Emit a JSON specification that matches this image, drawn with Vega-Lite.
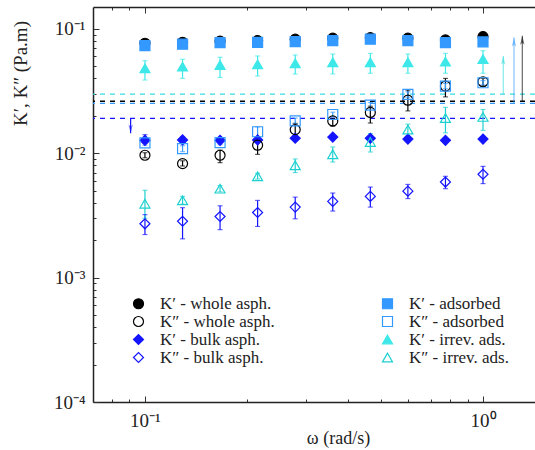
{
  "$schema": "https://vega.github.io/schema/vega-lite/v6.json",
  "width": 442,
  "height": 395,
  "autosize": "none",
  "padding": {"left": 93, "top": 7, "right": 0, "bottom": 48},
  "background": "white",
  "config": {
    "view": {"stroke": null},
    "axis": {
      "grid": false,
      "domainColor": "#222222",
      "domainWidth": 1.5,
      "tickColor": "#333333",
      "tickWidth": 1,
      "labelFont": "Liberation Serif",
      "labelFontSize": 19,
      "labelColor": "#222222",
      "titleFont": "Liberation Serif",
      "titleFontSize": 19,
      "titleFontWeight": "normal",
      "titleColor": "#222222",
      "labelOverlap": false,
      "labelFlush": false
    }
  },
  "datasets": {
    "pts": [
      {"series": "K′ - whole asph.", "x": 0.1, "y": 0.0767, "lo": 0.0745, "hi": 0.079},
      {"series": "K′ - whole asph.", "x": 0.1292, "y": 0.078, "lo": 0.076, "hi": 0.08},
      {"series": "K′ - whole asph.", "x": 0.1668, "y": 0.0796, "lo": 0.0775, "hi": 0.0817},
      {"series": "K′ - whole asph.", "x": 0.2154, "y": 0.0805, "lo": 0.0785, "hi": 0.0826},
      {"series": "K′ - whole asph.", "x": 0.2783, "y": 0.0826, "lo": 0.0805, "hi": 0.0848},
      {"series": "K′ - whole asph.", "x": 0.3594, "y": 0.0842, "lo": 0.082, "hi": 0.0865},
      {"series": "K′ - whole asph.", "x": 0.4642, "y": 0.085, "lo": 0.0828, "hi": 0.0873},
      {"series": "K′ - whole asph.", "x": 0.5995, "y": 0.0842, "lo": 0.082, "hi": 0.0865},
      {"series": "K′ - whole asph.", "x": 0.7743, "y": 0.0815, "lo": 0.079, "hi": 0.084},
      {"series": "K′ - whole asph.", "x": 1.0, "y": 0.0867, "lo": 0.08, "hi": 0.094},
      {"series": "K′ - adsorbed", "x": 0.1, "y": 0.0733, "lo": 0.0715, "hi": 0.0751},
      {"series": "K′ - adsorbed", "x": 0.1292, "y": 0.0753, "lo": 0.0735, "hi": 0.0771},
      {"series": "K′ - adsorbed", "x": 0.1668, "y": 0.0776, "lo": 0.0757, "hi": 0.0795},
      {"series": "K′ - adsorbed", "x": 0.2154, "y": 0.078, "lo": 0.0761, "hi": 0.0799},
      {"series": "K′ - adsorbed", "x": 0.2783, "y": 0.079, "lo": 0.0771, "hi": 0.0809},
      {"series": "K′ - adsorbed", "x": 0.3594, "y": 0.0805, "lo": 0.0786, "hi": 0.0824},
      {"series": "K′ - adsorbed", "x": 0.4642, "y": 0.0826, "lo": 0.0806, "hi": 0.0846},
      {"series": "K′ - adsorbed", "x": 0.5995, "y": 0.0805, "lo": 0.0786, "hi": 0.0824},
      {"series": "K′ - adsorbed", "x": 0.7743, "y": 0.0776, "lo": 0.0757, "hi": 0.0795},
      {"series": "K′ - adsorbed", "x": 1.0, "y": 0.0786, "lo": 0.0767, "hi": 0.0805},
      {"series": "K′ - bulk asph.", "x": 0.1, "y": 0.0127, "lo": 0.0121, "hi": 0.0141},
      {"series": "K′ - bulk asph.", "x": 0.1292, "y": 0.0128, "lo": 0.0123, "hi": 0.0136},
      {"series": "K′ - bulk asph.", "x": 0.1668, "y": 0.0127, "lo": 0.0122, "hi": 0.0134},
      {"series": "K′ - bulk asph.", "x": 0.2154, "y": 0.0128, "lo": 0.0124, "hi": 0.0133},
      {"series": "K′ - bulk asph.", "x": 0.2783, "y": 0.0132, "lo": 0.0129, "hi": 0.0135},
      {"series": "K′ - bulk asph.", "x": 0.3594, "y": 0.0135, "lo": 0.0132, "hi": 0.0138},
      {"series": "K′ - bulk asph.", "x": 0.4642, "y": 0.0132, "lo": 0.0129, "hi": 0.0135},
      {"series": "K′ - bulk asph.", "x": 0.5995, "y": 0.013, "lo": 0.0127, "hi": 0.0133},
      {"series": "K′ - bulk asph.", "x": 0.7743, "y": 0.0127, "lo": 0.0124, "hi": 0.013},
      {"series": "K′ - bulk asph.", "x": 1.0, "y": 0.013, "lo": 0.0127, "hi": 0.0133},
      {"series": "K′ - irrev. ads.", "x": 0.1, "y": 0.0482, "lo": 0.0388, "hi": 0.0555},
      {"series": "K′ - irrev. ads.", "x": 0.1292, "y": 0.0497, "lo": 0.04, "hi": 0.057},
      {"series": "K′ - irrev. ads.", "x": 0.1668, "y": 0.0513, "lo": 0.0407, "hi": 0.0592},
      {"series": "K′ - irrev. ads.", "x": 0.2154, "y": 0.0519, "lo": 0.0418, "hi": 0.0606},
      {"series": "K′ - irrev. ads.", "x": 0.2783, "y": 0.0529, "lo": 0.0434, "hi": 0.0617},
      {"series": "K′ - irrev. ads.", "x": 0.3594, "y": 0.0539, "lo": 0.0434, "hi": 0.0628},
      {"series": "K′ - irrev. ads.", "x": 0.4642, "y": 0.0539, "lo": 0.044, "hi": 0.0636},
      {"series": "K′ - irrev. ads.", "x": 0.5995, "y": 0.0539, "lo": 0.044, "hi": 0.0628},
      {"series": "K′ - irrev. ads.", "x": 0.7743, "y": 0.0545, "lo": 0.044, "hi": 0.0636},
      {"series": "K′ - irrev. ads.", "x": 1.0, "y": 0.0571, "lo": 0.044, "hi": 0.0668},
      {"series": "K″ - whole asph.", "x": 0.1, "y": 0.00964, "lo": 0.0092, "hi": 0.0101},
      {"series": "K″ - whole asph.", "x": 0.1292, "y": 0.00826, "lo": 0.0079, "hi": 0.0087},
      {"series": "K″ - whole asph.", "x": 0.1668, "y": 0.00964, "lo": 0.0084, "hi": 0.0106},
      {"series": "K″ - whole asph.", "x": 0.2154, "y": 0.01161, "lo": 0.0098, "hi": 0.0127},
      {"series": "K″ - whole asph.", "x": 0.2783, "y": 0.0155, "lo": 0.0137, "hi": 0.0174},
      {"series": "K″ - whole asph.", "x": 0.3594, "y": 0.0182, "lo": 0.0165, "hi": 0.0191},
      {"series": "K″ - whole asph.", "x": 0.4642, "y": 0.0213, "lo": 0.0175, "hi": 0.0239},
      {"series": "K″ - whole asph.", "x": 0.5995, "y": 0.0267, "lo": 0.0219, "hi": 0.0322},
      {"series": "K″ - whole asph.", "x": 0.7743, "y": 0.0347, "lo": 0.0284, "hi": 0.04},
      {"series": "K″ - whole asph.", "x": 1.0, "y": 0.0376, "lo": 0.0347, "hi": 0.04},
      {"series": "K″ - adsorbed", "x": 0.1, "y": 0.0121, "lo": 0.0116, "hi": 0.0127},
      {"series": "K″ - adsorbed", "x": 0.1292, "y": 0.0109, "lo": 0.0103, "hi": 0.0115},
      {"series": "K″ - adsorbed", "x": 0.1668, "y": 0.0122, "lo": 0.0117, "hi": 0.0128},
      {"series": "K″ - adsorbed", "x": 0.2154, "y": 0.0149, "lo": 0.0134, "hi": 0.0163},
      {"series": "K″ - adsorbed", "x": 0.2783, "y": 0.0182, "lo": 0.0172, "hi": 0.0192},
      {"series": "K″ - adsorbed", "x": 0.3594, "y": 0.0205, "lo": 0.0196, "hi": 0.0214},
      {"series": "K″ - adsorbed", "x": 0.4642, "y": 0.0244, "lo": 0.0232, "hi": 0.0256},
      {"series": "K″ - adsorbed", "x": 0.5995, "y": 0.0297, "lo": 0.0282, "hi": 0.0312},
      {"series": "K″ - adsorbed", "x": 0.7743, "y": 0.0347, "lo": 0.033, "hi": 0.0365},
      {"series": "K″ - adsorbed", "x": 1.0, "y": 0.0369, "lo": 0.0355, "hi": 0.0384},
      {"series": "K″ - bulk asph.", "x": 0.1, "y": 0.00271, "lo": 0.00222, "hi": 0.00321},
      {"series": "K″ - bulk asph.", "x": 0.1292, "y": 0.00284, "lo": 0.00205, "hi": 0.00365},
      {"series": "K″ - bulk asph.", "x": 0.1668, "y": 0.0031, "lo": 0.00243, "hi": 0.00378},
      {"series": "K″ - bulk asph.", "x": 0.2154, "y": 0.00334, "lo": 0.00258, "hi": 0.00418},
      {"series": "K″ - bulk asph.", "x": 0.2783, "y": 0.00369, "lo": 0.00297, "hi": 0.00444},
      {"series": "K″ - bulk asph.", "x": 0.3594, "y": 0.0041, "lo": 0.00343, "hi": 0.00479},
      {"series": "K″ - bulk asph.", "x": 0.4642, "y": 0.0045, "lo": 0.00369, "hi": 0.00535},
      {"series": "K″ - bulk asph.", "x": 0.5995, "y": 0.00496, "lo": 0.00432, "hi": 0.00562},
      {"series": "K″ - bulk asph.", "x": 0.7743, "y": 0.00587, "lo": 0.00519, "hi": 0.00653},
      {"series": "K″ - bulk asph.", "x": 1.0, "y": 0.00678, "lo": 0.0057, "hi": 0.00785},
      {"series": "K″ - irrev. ads.", "x": 0.1, "y": 0.00393, "lo": 0.003, "hi": 0.00504},
      {"series": "K″ - irrev. ads.", "x": 0.1292, "y": 0.00418, "lo": 0.0039, "hi": 0.0045},
      {"series": "K″ - irrev. ads.", "x": 0.1668, "y": 0.00519, "lo": 0.0049, "hi": 0.0055},
      {"series": "K″ - irrev. ads.", "x": 0.2154, "y": 0.00653, "lo": 0.0062, "hi": 0.0069},
      {"series": "K″ - irrev. ads.", "x": 0.2783, "y": 0.008, "lo": 0.007, "hi": 0.009},
      {"series": "K″ - irrev. ads.", "x": 0.3594, "y": 0.00982, "lo": 0.0085, "hi": 0.01125},
      {"series": "K″ - irrev. ads.", "x": 0.4642, "y": 0.01233, "lo": 0.01023, "hi": 0.01442},
      {"series": "K″ - irrev. ads.", "x": 0.5995, "y": 0.0155, "lo": 0.0134, "hi": 0.01714},
      {"series": "K″ - irrev. ads.", "x": 0.7743, "y": 0.0192, "lo": 0.0146, "hi": 0.0234},
      {"series": "K″ - irrev. ads.", "x": 1.0, "y": 0.0196, "lo": 0.0153, "hi": 0.0225}
    ],
    "lines": [
      {"sample": "irrev", "val": 0.0299},
      {"sample": "whole", "val": 0.0262},
      {"sample": "adsorbed", "val": 0.0252},
      {"sample": "bulk", "val": 0.0191}
    ],
    "arrows": [
      {"sample": "irrev", "x": 1.148, "from": 0.0299, "to": 0.0605, "dir": "up"},
      {"sample": "adsorbed", "x": 1.235, "from": 0.0252, "to": 0.0851, "dir": "up"},
      {"sample": "whole", "x": 1.307, "from": 0.0262, "to": 0.0879, "dir": "up"},
      {"sample": "bulk", "x": 0.0907, "from": 0.0191, "to": 0.0145, "dir": "down"}
    ]
  },
  "resolve": {"axis": {"x": "independent"}},
  "layer": [
    {
      "data": {"name": "lines"},
      "mark": {"type": "rule", "strokeDash": [5, 5], "strokeWidth": 1.3},
      "encoding": {
        "y": {"field": "val", "type": "quantitative", "scale": {"type": "log"}},
        "color": {"field": "sample", "type": "nominal", "legend": null,
          "scale": {"domain": ["K′ - whole asph.", "K′ - adsorbed", "K″ - whole asph.", "K″ - adsorbed", "K′ - bulk asph.", "K′ - irrev. ads.", "K″ - bulk asph.", "K″ - irrev. ads.", "whole", "adsorbed", "irrev", "bulk"],
            "range": ["#000000", "#3399ff", "#000000", "#3399ff", "#1414ff", "#3ee8e8", "#1414ff", "#1fd0d0", "#000000", "#3399ff", "#33dddd", "#1414ff"]}}
      }
    },
    {
      "data": {"name": "arrows"},
      "mark": {"type": "rule", "strokeWidth": 1.2},
      "encoding": {
        "x": {"field": "x", "type": "quantitative", "scale": {"type": "log"}, "axis": null},
        "y": {"field": "from", "type": "quantitative", "scale": {"type": "log"}},
        "y2": {"field": "to"},
        "color": {"field": "sample", "type": "nominal", "legend": null},
        "opacity": {"field": "dir", "type": "nominal", "legend": null, "scale": {"type": "ordinal", "domain": ["up", "down"], "range": [0.6, 1]}}
      }
    },
    {
      "data": {"name": "arrows"},
      "transform": [{"filter": "datum.dir == 'up'"}],
      "mark": {"type": "point", "filled": true, "shape": "M0,0L-0.55,2.2L0,1.7L0.55,2.2Z", "size": 64, "strokeWidth": 0},
      "encoding": {
        "x": {"field": "x", "type": "quantitative", "scale": {"type": "log"}, "axis": null},
        "y": {"field": "to", "type": "quantitative", "scale": {"type": "log"}},
        "color": {"field": "sample", "type": "nominal", "legend": null},
        "opacity": {"field": "dir", "type": "nominal", "legend": null}
      }
    },
    {
      "data": {"name": "arrows"},
      "transform": [{"filter": "datum.dir == 'down'"}],
      "mark": {"type": "point", "filled": true, "shape": "M0,0L-0.55,-2.2L0,-1.7L0.55,-2.2Z", "size": 64, "strokeWidth": 0},
      "encoding": {
        "x": {"field": "x", "type": "quantitative", "scale": {"type": "log"}, "axis": null},
        "y": {"field": "to", "type": "quantitative", "scale": {"type": "log"}},
        "color": {"field": "sample", "type": "nominal", "legend": null},
        "opacity": {"field": "dir", "type": "nominal", "legend": null}
      }
    },
    {
      "data": {"name": "pts"},
      "mark": {"type": "rule", "strokeWidth": 1.2},
      "encoding": {
        "x": {"field": "x", "type": "quantitative", "scale": {"type": "log"},
          "axis": {"orient": "top", "labels": false, "title": null,
            "values": [0.08, 0.09, 0.1, 0.2, 0.3, 0.4, 0.5, 0.6, 0.7, 0.8, 0.9, 1],
            "tickSize": {"condition": {"test": "datum.value == 0.1 || datum.value == 1", "value": -6}, "value": -3}}},
        "y": {"field": "lo", "type": "quantitative", "scale": {"type": "log"}},
        "y2": {"field": "hi"},
        "color": {"field": "series", "type": "nominal", "legend": null}
      }
    },
    {
      "data": {"name": "pts"},
      "transform": [{"fold": ["lo", "hi"], "as": ["end", "yv"]}],
      "mark": {"type": "tick", "orient": "horizontal", "size": 5, "thickness": 1.1},
      "encoding": {
        "x": {"field": "x", "type": "quantitative", "scale": {"type": "log"}, "axis": null},
        "y": {"field": "yv", "type": "quantitative", "scale": {"type": "log"}},
        "color": {"field": "series", "type": "nominal", "legend": null}
      }
    },
    {
      "data": {"name": "pts"},
      "mark": {"type": "point", "filled": true, "strokeWidth": 1.2, "opacity": 1, "size": 100},
      "encoding": {
        "x": {"field": "x", "type": "quantitative",
          "scale": {"type": "log", "domain": [0.0702, 1.425], "nice": false},
          "axis": {"orient": "bottom", "title": "ω (rad/s)", "titleFontSize": 18,
            "values": [0.08, 0.09, 0.1, 0.2, 0.3, 0.4, 0.5, 0.6, 0.7, 0.8, 0.9, 1],
            "labelExpr": "datum.value == 0.1 ? '10⁻¹' : datum.value == 1 ? '10⁰' : ''",
            "tickSize": {"condition": {"test": "datum.value == 0.1 || datum.value == 1", "value": -6}, "value": -3},
            "labelPadding": 15,
            "titleX": 245, "titleY": 36, "titleAlign": "center", "titleBaseline": "middle"}},
        "y": {"field": "y", "type": "quantitative",
          "scale": {"type": "log", "domain": [0.0001, 0.15], "nice": false},
          "axis": {"orient": "left", "title": "K′, K″ (Pa.m)",
            "values": [0.0001, 0.0002, 0.0003, 0.0004, 0.0005, 0.0006, 0.0007, 0.0008, 0.0009, 0.001, 0.002, 0.003, 0.004, 0.005, 0.006, 0.007, 0.008, 0.009, 0.01, 0.02, 0.03, 0.04, 0.05, 0.06, 0.07, 0.08, 0.09, 0.1],
            "labelExpr": "datum.value == 0.1 ? '10⁻¹' : datum.value == 0.01 ? '10⁻²' : datum.value == 0.001 ? '10⁻³' : datum.value == 0.0001 ? '10⁻⁴' : ''",
            "tickSize": {"condition": {"test": "datum.value == 0.1 || datum.value == 0.01 || datum.value == 0.001 || datum.value == 0.0001", "value": -6}, "value": -3},
            "labelPadding": 14,
            "titleX": -73, "titleY": 66, "titleAlign": "center", "titleBaseline": "middle"}},
        "shape": {"field": "series", "type": "nominal",
          "scale": {"domain": ["K′ - whole asph.", "K″ - whole asph.", "K′ - bulk asph.", "K″ - bulk asph.", "K′ - adsorbed", "K″ - adsorbed", "K′ - irrev. ads.", "K″ - irrev. ads."],
            "range": ["circle", "circle", "diamond", "diamond", "square", "square", "triangle-up", "triangle-up"]},
          "legend": {"orient": "none", "legendX": 37, "legendY": 288, "columns": 2, "columnPadding": 104, "rowPadding": 0,
            "title": null, "symbolSize": 100, "symbolStrokeWidth": 1.2, "labelFont": "Liberation Serif", "labelFontSize": 17,
            "labelColor": "#222222", "labelOffset": 13, "padding": 0}},
        "fill": {"field": "series", "type": "nominal",
          "scale": {"domain": ["K′ - whole asph.", "K″ - whole asph.", "K′ - bulk asph.", "K″ - bulk asph.", "K′ - adsorbed", "K″ - adsorbed", "K′ - irrev. ads.", "K″ - irrev. ads."],
            "range": ["#000000", "transparent", "#1414ff", "transparent", "#3399ff", "transparent", "#3ee8e8", "transparent"]}},
        "stroke": {"field": "series", "type": "nominal",
          "scale": {"domain": ["K′ - whole asph.", "K″ - whole asph.", "K′ - bulk asph.", "K″ - bulk asph.", "K′ - adsorbed", "K″ - adsorbed", "K′ - irrev. ads.", "K″ - irrev. ads."],
            "range": ["#000000", "#000000", "#1414ff", "#1414ff", "#3399ff", "#3399ff", "#3ee8e8", "#1fd0d0"]}}
      }
    }
  ]
}
